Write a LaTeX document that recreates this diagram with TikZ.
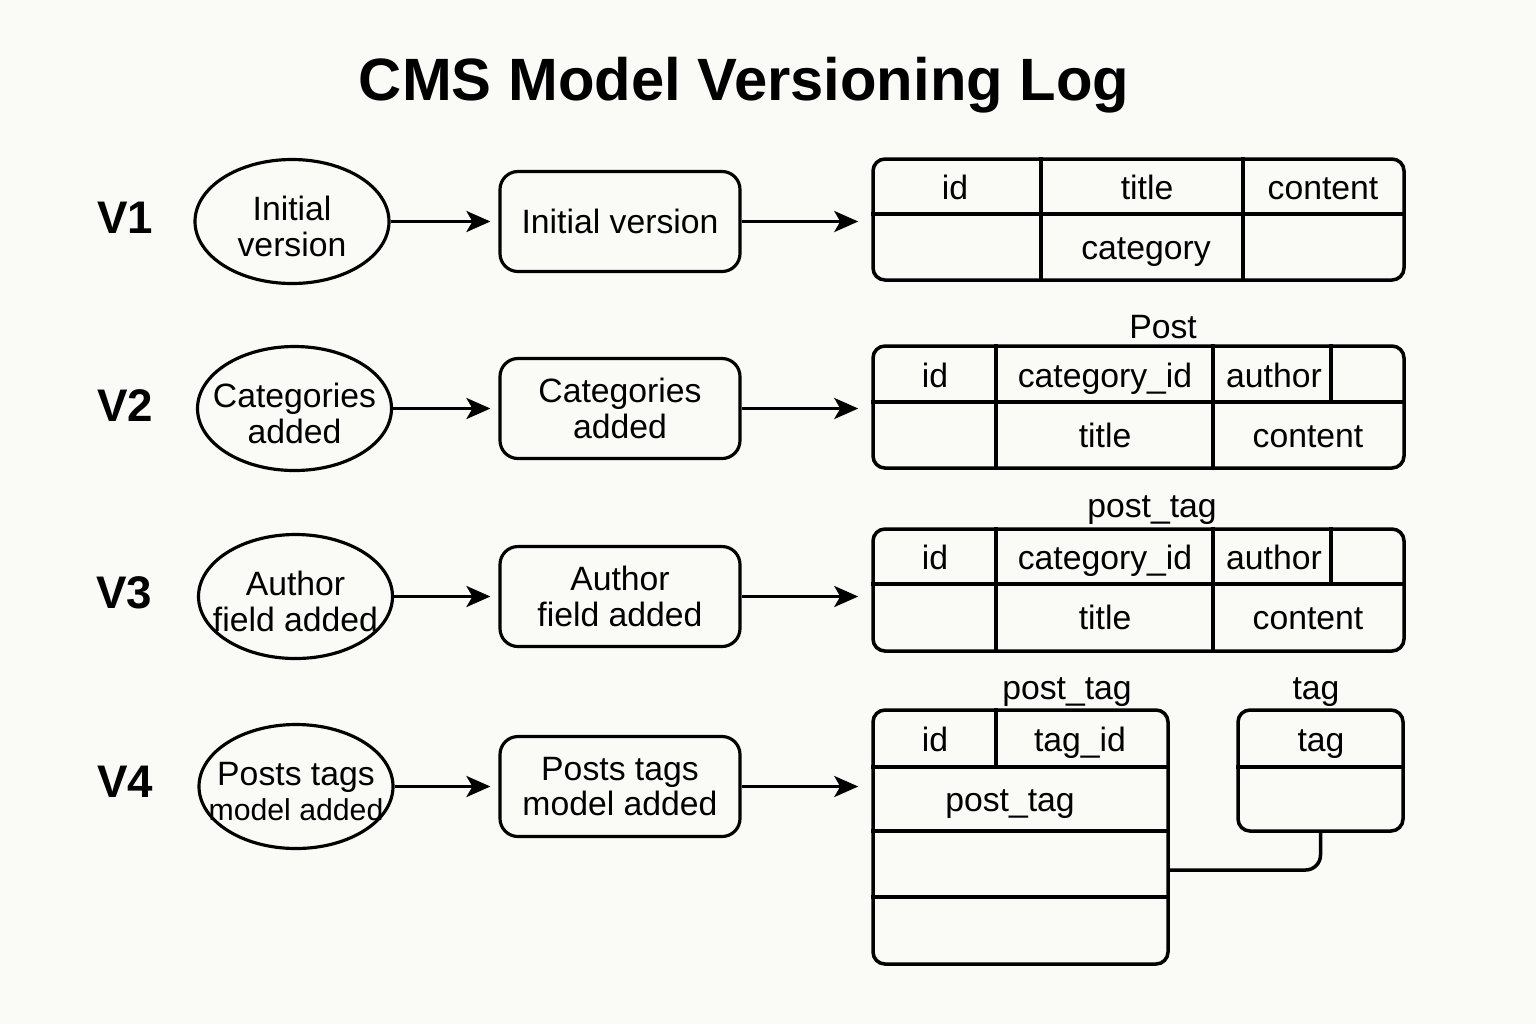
\documentclass[tikz,border=0pt]{standalone}
\usepackage{fontspec}
\setmainfont{Liberation Sans}
\usetikzlibrary{arrows.meta,shapes.geometric}
\definecolor{paper}{RGB}{250,250,247}
\begin{document}
\begin{tikzpicture}[x=1cm,y=1cm,
  every node/.style={font=\fontsize{9.6}{10.2}\selectfont},
  ver/.style={font=\fontsize{13}{15}\selectfont\bfseries},
  oval/.style={draw,ellipse,line width=0.9pt,minimum width=1.94cm,minimum height=1.24cm,inner sep=0pt},
  ovaltext/.style={align=center,inner sep=0pt,yshift=-0.05cm},
  stepbox/.style={draw,rounded corners=0.18cm,line width=0.9pt,align=center,minimum width=2.40cm,minimum height=1.0cm},
  tbl/.style={draw,rounded corners=0.12cm,line width=1pt},
  cell/.style={text height=0.31cm,text depth=0.07cm,inner sep=0pt},
  grid/.style={line width=1pt},
  arr/.style={-{Stealth[length=0.24cm,width=0.21cm,inset=0.06cm]},line width=0.9pt,shorten >=0.08cm}]
\fill[paper] (0,0) rectangle (15.36,-10.24);
\useasboundingbox (0,0) rectangle (15.36,-10.24);

\node[font=\fontsize{17}{20}\selectfont\bfseries] (title) at (7.44,-0.85) {CMS Model Versioning Log};

% versions
\node[ver] (v1) at (1.25,-2.18) {V1};
\node[ver] (v2) at (1.25,-4.06) {V2};
\node[ver] (v3) at (1.24,-5.93) {V3};
\node[ver] (v4) at (1.25,-7.82) {V4};

% change notes
\node[oval,label={[ovaltext]center:Initial\\version}] (e1) at (2.92,-2.215) {};
\node[oval,label={[ovaltext]center:Categories\\added}] (e2) at (2.945,-4.085) {};
\node[oval,label={[ovaltext]center:Author\\field added}] (e3) at (2.955,-5.965) {};
\node[oval,label={[ovaltext]center:Posts tags\\{\fontsize{8.6}{10.2}\selectfont model added}}] (e4) at (2.96,-7.865) {};

\node[stepbox] (b1) at (6.20,-2.215) {Initial version};
\node[stepbox] (b2) at (6.20,-4.085) {Categories\\added};
\node[stepbox] (b3) at (6.20,-5.965) {Author\\field added};
\node[stepbox] (b4) at (6.20,-7.865) {Posts tags\\model added};

\draw[arr] (e1) -- (b1);
\draw[arr] (e2) -- (b2);
\draw[arr] (e3) -- (b3);
\draw[arr] (e4) -- (b4);

% V1 table
\node[tbl,minimum width=5.31cm,minimum height=1.21cm] (t1) at (11.385,-2.195) {};
\draw[grid] (t1.west |- 0,-2.14) -- (t1.east |- 0,-2.14);
\draw[grid] (t1.north -| 10.41,0) -- (t1.south -| 10.41,0);
\draw[grid] (t1.north -| 12.43,0) -- (t1.south -| 12.43,0);
\node[cell] (t1a) at (9.55,-1.87) {id};
\node[cell] (t1b) at (11.47,-1.87) {title};
\node[cell] (t1c) at (13.23,-1.87) {content};
\node[cell] (t1d) at (11.46,-2.47) {category};

% V2 table
\node[cell] (n2) at (11.63,-3.26) {Post};
\node[tbl,minimum width=5.31cm,minimum height=1.22cm] (t2) at (11.385,-4.07) {};
\draw[grid] (t2.west |- 0,-4.02) -- (t2.east |- 0,-4.02);
\draw[grid] (t2.north -| 9.96,0) -- (t2.south -| 9.96,0);
\draw[grid] (t2.north -| 12.13,0) -- (t2.south -| 12.13,0);
\draw[grid] (t2.north -| 13.31,0) -- (13.31,-4.02);
\node[cell] (t2a) at (9.35,-3.75) {id};
\node[cell] (t2b) at (11.05,-3.75) {category\_id};
\node[cell] (t2c) at (12.74,-3.75) {author};
\node[cell] (t2d) at (11.05,-4.35) {title};
\node[cell] (t2e) at (13.08,-4.35) {content};

% V3 table
\node[cell] (n3) at (11.52,-5.05) {post\_tag};
\node[tbl,minimum width=5.31cm,minimum height=1.22cm] (t3) at (11.385,-5.90) {};
\draw[grid] (t3.west |- 0,-5.84) -- (t3.east |- 0,-5.84);
\draw[grid] (t3.north -| 9.96,0) -- (t3.south -| 9.96,0);
\draw[grid] (t3.north -| 12.13,0) -- (t3.south -| 12.13,0);
\draw[grid] (t3.north -| 13.31,0) -- (13.31,-5.84);
\node[cell] (t3a) at (9.35,-5.57) {id};
\node[cell] (t3b) at (11.05,-5.57) {category\_id};
\node[cell] (t3c) at (12.74,-5.57) {author};
\node[cell] (t3d) at (11.05,-6.17) {title};
\node[cell] (t3e) at (13.08,-6.17) {content};

% V4 tables
\node[cell] (n4) at (10.67,-6.87) {post\_tag};
\node[tbl,minimum width=2.95cm,minimum height=2.54cm] (t4) at (10.205,-8.37) {};
\draw[grid] (t4.west |- 0,-7.67) -- (t4.east |- 0,-7.67);
\draw[grid] (t4.west |- 0,-8.31) -- (t4.east |- 0,-8.31);
\draw[grid] (t4.west |- 0,-8.97) -- (t4.east |- 0,-8.97);
\draw[grid] (t4.north -| 9.96,0) -- (9.96,-7.67);
\node[cell] (t4a) at (9.35,-7.39) {id};
\node[cell] (t4b) at (10.80,-7.39) {tag\_id};
\node[cell] (t4c) at (10.10,-7.99) {post\_tag};

\node[cell] (n5) at (13.16,-6.87) {tag};
\node[tbl,minimum width=1.65cm,minimum height=1.21cm] (tg) at (13.205,-7.705) {};
\draw[grid] (tg.west |- 0,-7.67) -- (tg.east |- 0,-7.67);
\node[cell] (tga) at (13.21,-7.39) {tag};

\draw[arr,shorten >=0.13cm] (b1) -- (b1 -| t1.west);
\draw[arr,shorten >=0.13cm] (b2) -- (b2 -| t2.west);
\draw[arr,shorten >=0.13cm] (b3) -- (b3 -| t3.west);
\draw[arr,shorten >=0.13cm] (b4) -- (b4 -| t4.west);

\coordinate (lk) at (t4.east |- 0,-8.70);
\draw[grid,rounded corners=0.15cm] (lk) -| (tg.south);
\end{tikzpicture}
\end{document}
